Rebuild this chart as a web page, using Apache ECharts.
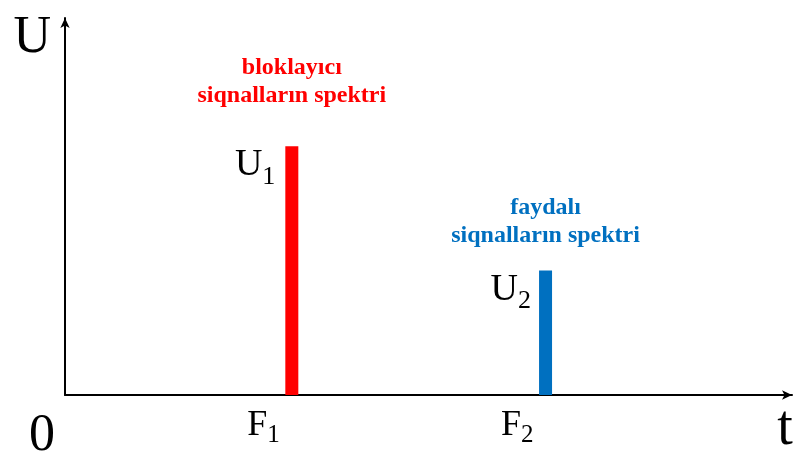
<!DOCTYPE html>
<html>
<head>
<meta charset="utf-8">
<script src="https://cdn.jsdelivr.net/npm/echarts@6/dist/echarts.min.js"></script>
<style>html,body{margin:0;padding:0;background:#fff}#c{width:797px;height:457px}</style>
</head>
<body>
<div id="c"></div>
<script>
// Data
const freqNames = ['F', 'F'];
const freqSubs = ['1', '2'];
const freqs = [31.2, 66.1];           // position on t axis (0..100)
const amps = [66, 33];                 // amplitude on U axis (0..100)
const ampNames = ['U', 'U'];
const ampSubs = ['1', '2'];
const notes = ['bloklayıcı\nsiqnalların spektri', 'faydalı\nsiqnalların spektri'];
const colors = ['#FF0000', '#0070C0'];
const noteGaps = [36, 21];
const ampLabelGaps = [-10, -8];

const serif = '"Liberation Serif", "Times New Roman", serif';
const chart = echarts.init(document.getElementById('c'), null, {renderer: 'canvas'});

const barData = freqs.map((f, i) => ({
  value: [f, amps[i]],
  itemStyle: {color: colors[i]},
  label: {
    show: true,
    position: [ampLabelGaps[i], 0],
    align: 'right',
    verticalAlign: 'top',
    formatter: '{m|' + ampNames[i] + '}{s|' + ampSubs[i] + '}',
    rich: {
      m: {fontFamily: serif, fontSize: 38, color: '#000', verticalAlign: 'top', lineHeight: 38},
      s: {fontFamily: serif, fontSize: 26, color: '#000', verticalAlign: 'bottom', lineHeight: 44}
    }
  }
}));

const noteData = freqs.map((f, i) => ({
  value: [f, amps[i]],
  itemStyle: {opacity: 1},
  label: {
    show: true,
    position: 'top',
    distance: noteGaps[i],
    formatter: notes[i],
    color: colors[i],
    opacity: 1,
    fontFamily: serif,
    fontWeight: 'bold',
    fontSize: 24,
    lineHeight: 28,
    align: 'center'
  }
}));

chart.setOption({
  animation: false,
  backgroundColor: '#fff',
  grid: {left: 65, right: 5, top: 18, bottom: 62, containLabel: false},
  xAxis: {
    type: 'value', min: 0, max: 100,
    splitLine: {show: false},
    axisTick: {show: false},
    axisLine: {show: true, lineStyle: {color: '#000', width: 2}, symbol: ['none', 'arrow'], symbolSize: [7, 10]},
    name: 't',
    nameLocation: 'end',
    nameGap: -7,
    nameTextStyle: {fontFamily: serif, fontSize: 56, color: '#000', align: 'center', verticalAlign: 'top', padding: [6, 0, 0, 0]},
    axisLabel: {
      show: true,
      customValues: freqs,
      margin: 13,
      align: 'right',
      padding: [0, 12, 0, 0],
      formatter: function (v) {
        const i = freqs.indexOf(v);
        return '{m|' + freqNames[i] + '}{s|' + freqSubs[i] + '}';
      },
      rich: {
        m: {fontFamily: serif, fontSize: 36, color: '#000', verticalAlign: 'top', lineHeight: 36},
        s: {fontFamily: serif, fontSize: 25, color: '#000', verticalAlign: 'bottom', lineHeight: 40}
      }
    }
  },
  yAxis: {
    type: 'value', min: 0, max: 100,
    splitLine: {show: false},
    axisTick: {show: false},
    axisLabel: {show: false},
    axisLine: {show: true, lineStyle: {color: '#000', width: 2}, symbol: ['none', 'arrow'], symbolSize: [7, 10]},
    name: 'U',
    nameLocation: 'end',
    nameGap: 6,
    nameTextStyle: {fontFamily: serif, fontSize: 52, color: '#000', align: 'right', verticalAlign: 'top', padding: [0, 14, 0, 0]}
  },
  graphic: [{
    type: 'text', left: 29, top: 410,
    style: {text: '0', font: '52px ' + serif, fill: '#000'}
  }],
  series: [
    {type: 'bar', barWidth: 13, data: barData, z: 3},
    {type: 'scatter', symbolSize: 0, data: noteData, silent: true, z: 4}
  ]
});
</script>
</body>
</html>
